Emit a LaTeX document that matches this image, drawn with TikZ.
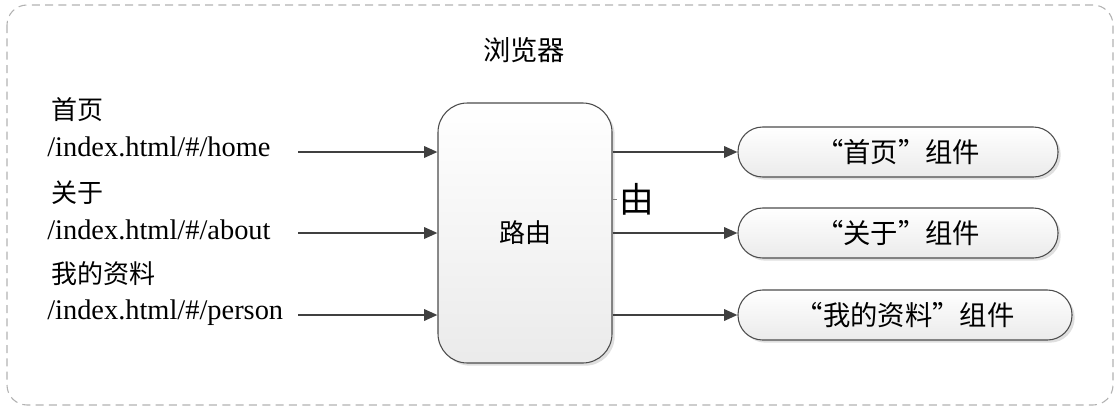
\documentclass[tikz,border=0pt]{standalone}
\usepackage{fontspec}
\setmainfont{Liberation Serif}
\newfontfamily\cjk{Noto Sans CJK SC}
\usetikzlibrary{arrows.meta,shadows}
\tikzset{
  px/.style={x=0.75pt,y=-0.75pt},
  frame/.style={draw=gray!60, line width=0.8pt, dash pattern=on 6pt off 4pt, rounded corners=15pt},
  routerbox/.style={draw=black!70, line width=0.8pt, rounded corners=22pt, top color=white, bottom color=black!8,
     minimum width=130.5pt, minimum height=195pt, drop shadow={opacity=0.25, shadow xshift=2pt, shadow yshift=-2pt}},
  compbox/.style={draw=black!70, line width=0.8pt, rounded corners=18.5pt, top color=white, bottom color=black!8,
     minimum height=37.5pt, font=\cjk\fontsize{20.5}{24}\selectfont,
     drop shadow={opacity=0.25, shadow xshift=2pt, shadow yshift=-2pt}},
  conn/.style={draw=black!75, line width=1.7pt, -{Triangle[length=10pt,width=8.5pt]}},
  url/.style={anchor=west, inner sep=0pt, font=\fontsize{21.3}{24}\selectfont},
  zh/.style={anchor=west, inner sep=0pt, font=\cjk\fontsize{19.5}{22}\selectfont},
}
\begin{document}
\begin{tikzpicture}[px]
\useasboundingbox (0,0) rectangle (1120,411);
\draw[frame] (7,5) rectangle (1113,405);
\node[font=\cjk\fontsize{20.5}{24}\selectfont] (title) at (524,50) {浏览器};

\node[routerbox, font=\cjk\fontsize{19.5}{22}\selectfont] (router) at (525,233) {路由};

\node[compbox, minimum width=240pt] (c1) at (898,152) {“首页”组件};
\node[compbox, minimum width=240pt] (c2) at (898,233) {“关于”组件};
\node[compbox, minimum width=250.5pt] (c3) at (905,315) {“我的资料”组件};

\node[zh] (l1) at (51,110) {首页};
\node[url] (u1) at (47,147) {/index.html/\#/home};
\node[zh] (l2) at (51,193) {关于};
\node[url] (u2) at (47,230) {/index.html/\#/about};
\node[zh] (l3) at (51,274) {我的资料};
\node[url] (u3) at (47,313) {/index.html/\#/person};

\coordinate (s1) at (298,152);
\coordinate (s2) at (298,233);
\coordinate (s3) at (298,315);
\draw[conn] (s1) -- (s1 -| router.west);
\draw[conn] (s2) -- (s2 -| router.west);
\draw[conn] (s3) -- (s3 -| router.west);

\draw[conn] (router.east |- c1.west) -- (c1.west);
\draw[conn] (router.east |- c2.west) -- (c2.west);
\draw[conn] (router.east |- c3.west) -- (c3.west);

\node[font=\cjk\fontsize{26}{28}\selectfont, inner sep=0pt] (stray) at (637,199) {由};
\coordinate (st) at (617,199);
\draw[draw=black!50, line width=0.6pt] (router.east |- st) -- (st);
\end{tikzpicture}
\end{document}
